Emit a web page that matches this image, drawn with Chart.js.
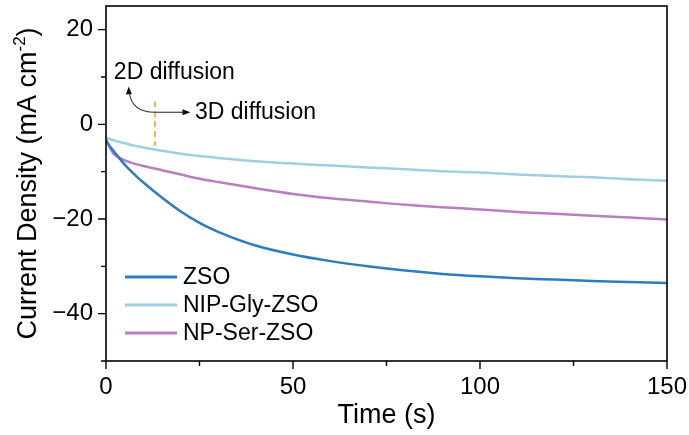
<!DOCTYPE html>
<html>
<head>
<meta charset="utf-8">
<script src="https://cdn.jsdelivr.net/npm/chart.js@4"></script>
<style>
html,body{margin:0;padding:0;background:#fff;}
#wrap{width:689px;height:435px;position:relative;}
</style>
</head>
<body>
<div id="wrap"><canvas id="c" width="689" height="435"></canvas></div>
<script>
// ---- data ----
const time   = [0, 1, 2, 3, 5, 7.5, 10, 15, 20, 25, 30, 40, 50, 60, 70, 80, 90, 100, 110, 120, 130, 140, 150];
const zso    = [-3.4, -4.6, -5.6, -6.6, -8.5, -10.5, -12.3, -15.5, -18.4, -20.8, -22.7, -25.6, -27.5, -28.9, -30.0, -30.9, -31.6, -32.1, -32.5, -32.8, -33.1, -33.3, -33.5];
const nipGly = [-2.8, -3.1, -3.4, -3.6, -4.0, -4.5, -4.9, -5.6, -6.2, -6.7, -7.1, -7.8, -8.3, -8.7, -9.1, -9.5, -9.9, -10.2, -10.6, -10.9, -11.2, -11.6, -11.9];
const npSer  = [-3.2, -4.9, -6.2, -6.8, -7.6, -8.3, -8.8, -9.7, -10.6, -11.5, -12.2, -13.5, -14.7, -15.6, -16.3, -17.0, -17.5, -18.0, -18.5, -18.9, -19.3, -19.7, -20.1];
const seriesNames = ['ZSO', 'NIP-Gly-ZSO', 'NP-Ser-ZSO'];
const xTicks = [0, 25, 50, 75, 100, 125, 150];
const xLabeled = [0, 50, 100, 150];
const yTicks = [-50, -40, -30, -20, -10, 0, 10, 20];
const yLabeled = [-40, -20, 0, 20];
const xTitle = 'Time (s)';
const yTitle = 'Current Density (mA cm';
const yTitleSup = '-2';
const annot2D = '2D diffusion';
const annot3D = '3D diffusion';
// annotation anchor points (data coordinates)
const dashT = 13.1, dashY0 = 4.9, dashY1 = -4.5;
const arrowOrigin = {x: 13.1, y: 2.55};
const arrowRightEnd = {x: 22.6, y: 2.55};
const arrowUpEnd = {x: 6.1, y: 8.0};
const label2D = {x: 2.1, y: 10.9};
const label3D = {x: 23.8, y: 2.55};

const colors = ['#2C7CC1', '#9ECDE5', '#B87EC1'];
const FONT = '"Liberation Sans", Arial, Helvetica, sans-serif';

function pts(arr){ return time.map((t,i)=>({x:t, y:arr[i]})); }
function zeroPad(s){ s.paddingTop = 0; s.paddingBottom = 0; s.paddingLeft = 0; s.paddingRight = 0; }

const decor = {
  id: 'decor',
  afterDatasetsDraw(chart){
    const ctx = chart.ctx, a = chart.chartArea;
    const xs = chart.scales.x, ys = chart.scales.y;
    ctx.save();
    // frame
    ctx.strokeStyle = '#000'; ctx.lineWidth = 1.6;
    ctx.strokeRect(a.left, a.top, a.right - a.left, a.bottom - a.top);
    // ticks
    ctx.lineWidth = 1.4;
    ctx.beginPath();
    xTicks.forEach(v=>{
      const px = xs.getPixelForValue(v);
      const len = xLabeled.includes(v) ? 8 : 5;
      ctx.moveTo(px, a.bottom); ctx.lineTo(px, a.bottom + len);
    });
    yTicks.forEach(v=>{
      const py = ys.getPixelForValue(v);
      const len = yLabeled.includes(v) ? 8 : 5;
      ctx.moveTo(a.left, py); ctx.lineTo(a.left - len, py);
    });
    ctx.stroke();

    // dashed orange line
    ctx.strokeStyle = '#F4B84A'; ctx.lineWidth = 2; ctx.setLineDash([6,4]);
    ctx.beginPath();
    ctx.moveTo(xs.getPixelForValue(dashT), ys.getPixelForValue(dashY0));
    ctx.lineTo(xs.getPixelForValue(dashT), ys.getPixelForValue(dashY1));
    ctx.stroke();
    ctx.setLineDash([]);

    // arrows
    const ox = xs.getPixelForValue(arrowOrigin.x), oy = ys.getPixelForValue(arrowOrigin.y);
    const rx = xs.getPixelForValue(arrowRightEnd.x), ry = ys.getPixelForValue(arrowRightEnd.y);
    const ux = xs.getPixelForValue(arrowUpEnd.x), uy = ys.getPixelForValue(arrowUpEnd.y);
    ctx.strokeStyle = '#333'; ctx.fillStyle = '#111'; ctx.lineWidth = 1.1;
    ctx.beginPath(); ctx.moveTo(ox, oy); ctx.lineTo(rx - 6, ry); ctx.stroke();
    ctx.beginPath(); ctx.moveTo(rx, ry); ctx.lineTo(rx - 8, ry - 3); ctx.lineTo(rx - 8, ry + 3); ctx.closePath(); ctx.fill();
    ctx.beginPath(); ctx.moveTo(ox, oy);
    ctx.quadraticCurveTo(ux + 3, oy, ux + 0.5, uy + 6);
    ctx.stroke();
    ctx.beginPath(); ctx.moveTo(ux, uy); ctx.lineTo(ux - 3, uy + 8); ctx.lineTo(ux + 3, uy + 7.5); ctx.closePath(); ctx.fill();

    // annotation text
    ctx.fillStyle = '#000';
    ctx.font = '23px ' + FONT;
    ctx.textAlign = 'left'; ctx.textBaseline = 'middle';
    ctx.fillText(annot2D, xs.getPixelForValue(label2D.x), ys.getPixelForValue(label2D.y));
    ctx.fillText(annot3D, xs.getPixelForValue(label3D.x), ys.getPixelForValue(label3D.y));

    // legend
    const lx = a.left + 19, ly = a.top + 271, step = 28;
    seriesNames.forEach((n,i)=>{
      const y = ly + i*step;
      ctx.strokeStyle = colors[i]; ctx.lineWidth = 3;
      ctx.beginPath(); ctx.moveTo(lx, y); ctx.lineTo(lx + 52, y); ctx.stroke();
      ctx.fillStyle = '#000';
      ctx.fillText(n, lx + 58, y + 1);
    });

    // y title with superscript
    ctx.save();
    const cy = (a.top + a.bottom)/2;
    ctx.translate(29, cy);
    ctx.rotate(-Math.PI/2);
    const mainF = '27px ' + FONT, supF = '17px ' + FONT;
    ctx.font = mainF; const w1 = ctx.measureText(yTitle).width; const w3 = ctx.measureText(')').width;
    ctx.font = supF; const w2 = ctx.measureText(yTitleSup).width;
    let sx = -(w1 + w2 + w3)/2;
    ctx.textAlign = 'left'; ctx.textBaseline = 'middle'; ctx.fillStyle = '#000';
    ctx.font = mainF; ctx.fillText(yTitle, sx, 0); sx += w1;
    ctx.font = supF; ctx.fillText(yTitleSup, sx, -9); sx += w2;
    ctx.font = mainF; ctx.fillText(')', sx, 0);
    ctx.restore();

    ctx.restore();
  }
};

new Chart(document.getElementById('c'), {
  type: 'line',
  data: {
    datasets: [
      {label: seriesNames[0], data: pts(zso), borderColor: colors[0]},
      {label: seriesNames[1], data: pts(nipGly), borderColor: colors[1]},
      {label: seriesNames[2], data: pts(npSer), borderColor: colors[2]}
    ]
  },
  options: {
    responsive: false,
    animation: false,
    devicePixelRatio: 1,
    layout: {padding: {top: 6, right: 22, left: 0, bottom: 0}, autoPadding: false},
    elements: {
      line: {borderWidth: 2.5, cubicInterpolationMode: 'monotone', fill: false},
      point: {radius: 0}
    },
    plugins: {legend: {display: false}, tooltip: {enabled: false}},
    scales: {
      x: {
        type: 'linear', min: 0, max: 150,
        afterBuildTicks: s => { s.ticks = xTicks.map(v=>({value:v})); },
        afterFit: s => { s.height = 74; zeroPad(s); },
        grid: {display: false, drawTicks: false},
        border: {display: false},
        ticks: {
          autoSkip: false, maxRotation: 0, padding: 12, color: '#000',
          font: {family: FONT, size: 24},
          callback: v => xLabeled.includes(v) ? String(v) : ''
        },
        title: {display: true, text: xTitle, color: '#000', font: {family: FONT, size: 27, lineHeight: 1.2}, padding: {top: 0, bottom: 3}}
      },
      y: {
        type: 'linear', min: -50, max: 25,
        afterBuildTicks: s => { s.ticks = yTicks.map(v=>({value:v})); },
        afterFit: s => { s.width = 106; zeroPad(s); },
        grid: {display: false, drawTicks: false},
        border: {display: false},
        ticks: {
          autoSkip: false, padding: 13, color: '#000',
          font: {family: FONT, size: 24},
          callback: v => yLabeled.includes(v) ? String(v).replace('-', '\u2212') : ''
        }
      }
    }
  },
  plugins: [decor]
});
</script>
</body>
</html>
